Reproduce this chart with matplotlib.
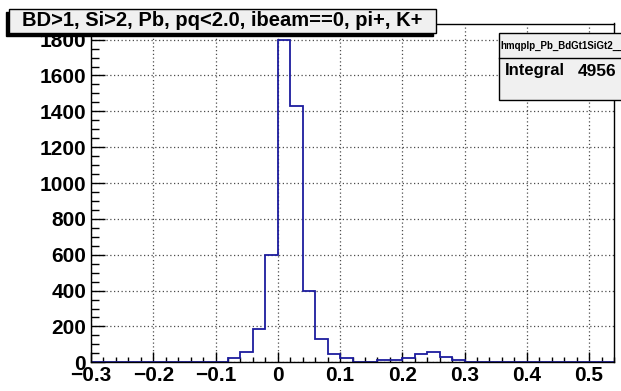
import numpy as np
import matplotlib
matplotlib.use("Agg")
import matplotlib.pyplot as plt
from matplotlib.patches import Rectangle
from matplotlib.ticker import MultipleLocator

plt.rcParams['font.family'] = ['Liberation Sans', 'DejaVu Sans']
plt.rcParams['font.weight'] = 'bold'

# histogram: 42 bins of 0.02 from -0.3 to 0.54
x_lo = -0.3
x_hi = 0.54
counts = [0, 0, 0, 0, 3, 0, 3, 0, 0, 3,
          3, 22, 56, 184, 600, 1800, 1432, 399, 132, 45,
          22, 4, 4, 11, 11, 22, 45, 56, 28, 11,
          4, 4, 4, 0, 0, 3, 0, 0, 3, 3,
          0, 0]
title = "BD>1, Si>2, Pb, pq<2.0, ibeam==0, pi+, K+"
hist_name = "hmqplp_Pb_BdGt1SiGt2__17"
integral = 4956

W, H = 621, 391
fig = plt.figure(figsize=(W / 100, H / 100), dpi=100)
fig.patch.set_facecolor('white')

def fx(px):
    return px / W

def fy(py):
    return 1 - py / H

# axes frame in pixels: left 91, right 614, top 23.5, bottom 362.3
ax = fig.add_axes([fx(91), fy(362.3), fx(614 - 91), (362.3 - 23.5) / H])

edges = np.linspace(x_lo, x_hi, len(counts) + 1)
ax.stairs(counts, edges, color='#1c1c9e', lw=1.3, baseline=0)

ax.set_xlim(x_lo, x_hi)
ax.set_ylim(0, 1.05 * max(counts))

ax.xaxis.set_major_locator(MultipleLocator(0.1))
ax.xaxis.set_minor_locator(MultipleLocator(0.02))
ax.yaxis.set_major_locator(MultipleLocator(200))
ax.yaxis.set_minor_locator(MultipleLocator(50))
ax.xaxis.set_major_formatter(plt.FuncFormatter(
    lambda v, p: "0" if abs(v) < 1e-9 else f"{v:.1f}".replace("-", "\u2212")))

ax.tick_params(which='both', direction='in', top=False, right=False,
               labelsize=15, width=1.0, color='black')
ax.tick_params(axis='y', which='major', length=10, pad=3.5)
ax.tick_params(axis='y', which='minor', length=6)
ax.tick_params(axis='x', which='major', length=7, pad=3)
ax.tick_params(axis='x', which='minor', length=3.5)
for lab in ax.get_xticklabels() + ax.get_yticklabels():
    lab.set_fontweight('bold')

ax.grid(True, which='major', linestyle=(0, (1, 2)), color='0.3', lw=0.9)
ax.set_axisbelow(True)
for sp in ax.spines.values():
    sp.set_linewidth(1.0)
    sp.set_color('black')

# title box with shadow (left / bottom)
tb_x0, tb_x1, tb_y0, tb_y1 = 9, 436, 9, 33
fig.patches.append(Rectangle((fx(tb_x0 - 3), fy(tb_y1 + 3)), fx(tb_x1 - tb_x0),
                             (tb_y1 - tb_y0) / H, transform=fig.transFigure,
                             facecolor='black', edgecolor='black', zorder=5))
fig.patches.append(Rectangle((fx(tb_x0), fy(tb_y1)), fx(tb_x1 - tb_x0),
                             (tb_y1 - tb_y0) / H, transform=fig.transFigure,
                             facecolor='#f0f0f0', edgecolor='black', lw=1.0, zorder=6))
fig.text(fx((tb_x0 + tb_x1) / 2), fy((tb_y0 + tb_y1) / 2), title,
         ha='center', va='center', fontsize=14.5, fontweight='bold', zorder=7)

# stats box
sb_x0, sb_x1, sb_y0, sb_y1, sb_div = 499, 640, 33.3, 100, 57.7
fig.patches.append(Rectangle((fx(sb_x0), fy(sb_y1)), fx(sb_x1 - sb_x0),
                             (sb_y1 - sb_y0) / H, transform=fig.transFigure,
                             facecolor='#f0f0f0', edgecolor='black', lw=1.0, zorder=5))
fig.lines.append(plt.Line2D([fx(sb_x0), fx(sb_x1)], [fy(sb_div), fy(sb_div)],
                            transform=fig.transFigure, color='black', lw=1.0, zorder=6))
fig.text(fx(500), fy((sb_y0 + sb_div) / 2), hist_name, ha='left', va='center',
         fontsize=7, fontweight='bold', zorder=7)
fig.text(fx(505), fy(71), "Integral", ha='left', va='center',
         fontsize=12, fontweight='bold', zorder=7)
fig.text(fx(578), fy(71), str(integral), ha='left', va='center',
         fontsize=12.5, fontweight='bold', zorder=7)

fig.savefig("out.png", dpi=100)
